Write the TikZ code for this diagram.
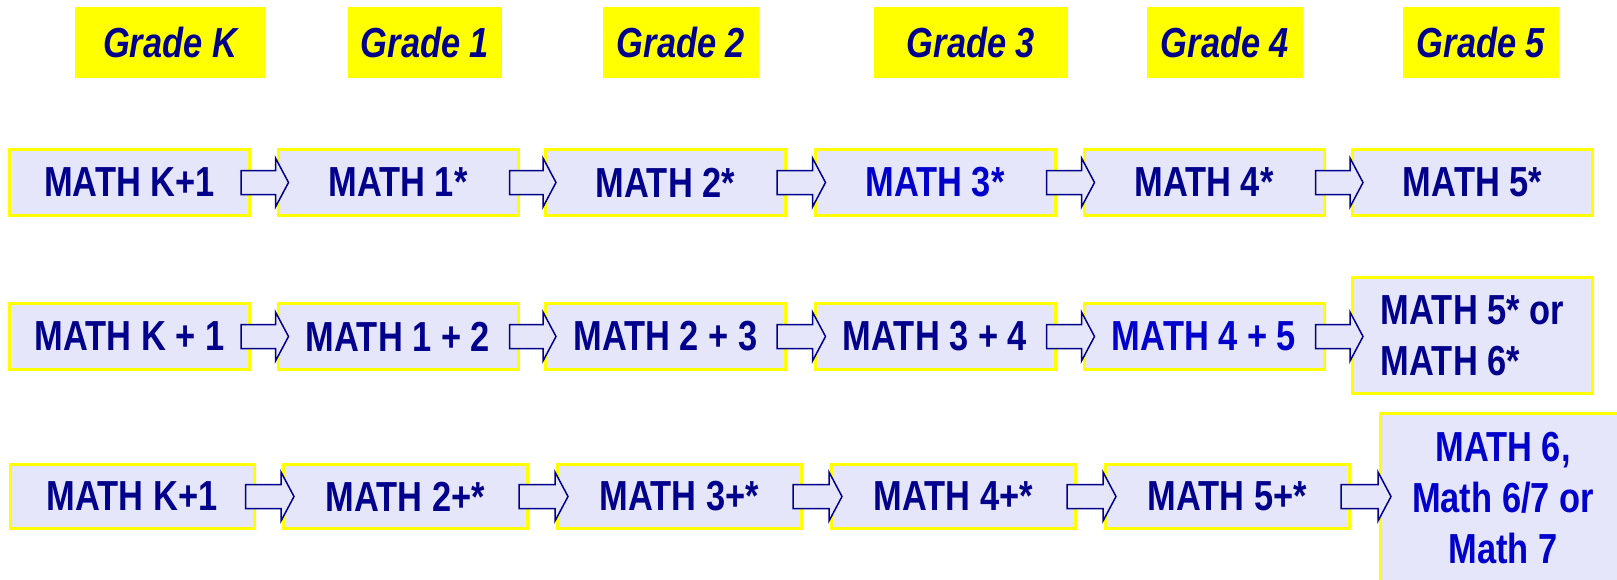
\documentclass[tikz,border=0pt]{standalone}
\usepackage{fontspec}
\newfontfamily\narrowfont[FakeStretch=0.82]{Liberation Sans}
\usetikzlibrary{calc}
\definecolor{navy}{HTML}{00008C}
\definecolor{brightblue}{HTML}{0000CC}
\definecolor{lav}{HTML}{E6E6FA}
\definecolor{yel}{HTML}{FFFF00}
\tikzset{
  mbox/.style={draw=yel, line width=3pt, fill=lav, inner sep=0pt, text=navy,
    font=\narrowfont\bfseries\fontsize{42}{51}\selectfont, align=center},
  row12/.style={mbox, minimum width=240pt, minimum height=66pt},
  row3/.style={mbox, minimum width=244pt, minimum height=64pt},
  gbox/.style={fill=yel, inner sep=0pt, text=navy, minimum height=71pt,
    font=\narrowfont\bfseries\itshape\fontsize{42}{51}\selectfont},
  blockarrow/.style={draw=navy, line width=1.5pt, fill=lav, line join=miter},
}
\newcommand\blockarr[2]{%
  \draw[blockarrow] let \p1=([xshift=-10pt]#1.east), \p2=([xshift=12pt]#2.west) in
    (\x1,\y1+12pt) -- (\x2-13pt,\y1+12pt) -- (\x2-13pt,\y1+24.5pt) -- (\x2,\y1)
    -- (\x2-13pt,\y1-24.5pt) -- (\x2-13pt,\y1-12pt) -- (\x1,\y1-12pt) -- cycle;}
\begin{document}
\begin{tikzpicture}[x=1pt,y=-1pt]
\useasboundingbox (0,0) rectangle (1617,579);
\clip (0,0) rectangle (1617,579);
% grade headers
\node[gbox, minimum width=190pt] (gK) at (170,42.5) {Grade K};
\node[gbox, minimum width=154pt] (g1) at (425,42.5) {Grade 1};
\node[gbox, minimum width=156pt] (g2) at (681,42.5) {Grade 2};
\node[gbox, minimum width=194pt] (g3) at (971,42.5) {Grade 3};
\node[gbox, minimum width=156pt] (g4) at (1225,42.5) {Grade 4};
\node[gbox, minimum width=156pt] (g5) at (1481,42.5) {Grade 5};
% row 1
\node[row12] (a0) at (129.5,182.5) {MATH K+1};
\node[row12] (a1) at (398,182.5) {MATH 1*};
\node[row12] (a2) at (665.5,182.5) {MATH 2*};
\node[row12, text=brightblue] (a3) at (935,182.5) {MATH 3*};
\node[row12] (a4) at (1204,182.5) {MATH 4*};
\node[row12] (a5) at (1472.5,182.5) {MATH 5*};
% row 2
\node[row12] (b0) at (129.5,336.5) {MATH K + 1};
\node[row12] (b1) at (398,336.5) {MATH 1 + 2};
\node[row12] (b2) at (665.5,336.5) {MATH 2 + 3};
\node[row12] (b3) at (935,336.5) {MATH 3 + 4};
\node[row12, text=brightblue] (b4) at (1204,336.5) {MATH 4 + 5};
\node[mbox, minimum width=240pt, minimum height=116pt, align=left] (b5) at (1472.5,335.5) {MATH 5* or\\MATH 6*};
% row 3
\node[row3] (c0) at (132,496.5) {MATH K+1};
\node[row3] (c1) at (405.5,496.5) {MATH 2+*};
\node[row3] (c2) at (679.5,496.5) {MATH 3+*};
\node[row3] (c3) at (953.5,496.5) {MATH 4+*};
\node[row3] (c4) at (1227.5,496.5) {MATH 5+*};
\node[mbox, minimum width=245pt, minimum height=169pt, text=brightblue] (c5) at (1503,498) {MATH 6,\\Math 6/7 or\\Math 7};
% arrows
\blockarr{a0}{a1}\blockarr{a1}{a2}\blockarr{a2}{a3}\blockarr{a3}{a4}\blockarr{a4}{a5}
\blockarr{b0}{b1}\blockarr{b1}{b2}\blockarr{b2}{b3}\blockarr{b3}{b4}\blockarr{b4}{b5}
\blockarr{c0}{c1}\blockarr{c1}{c2}\blockarr{c2}{c3}\blockarr{c3}{c4}\blockarr{c4}{c5}
\end{tikzpicture}
\end{document}
